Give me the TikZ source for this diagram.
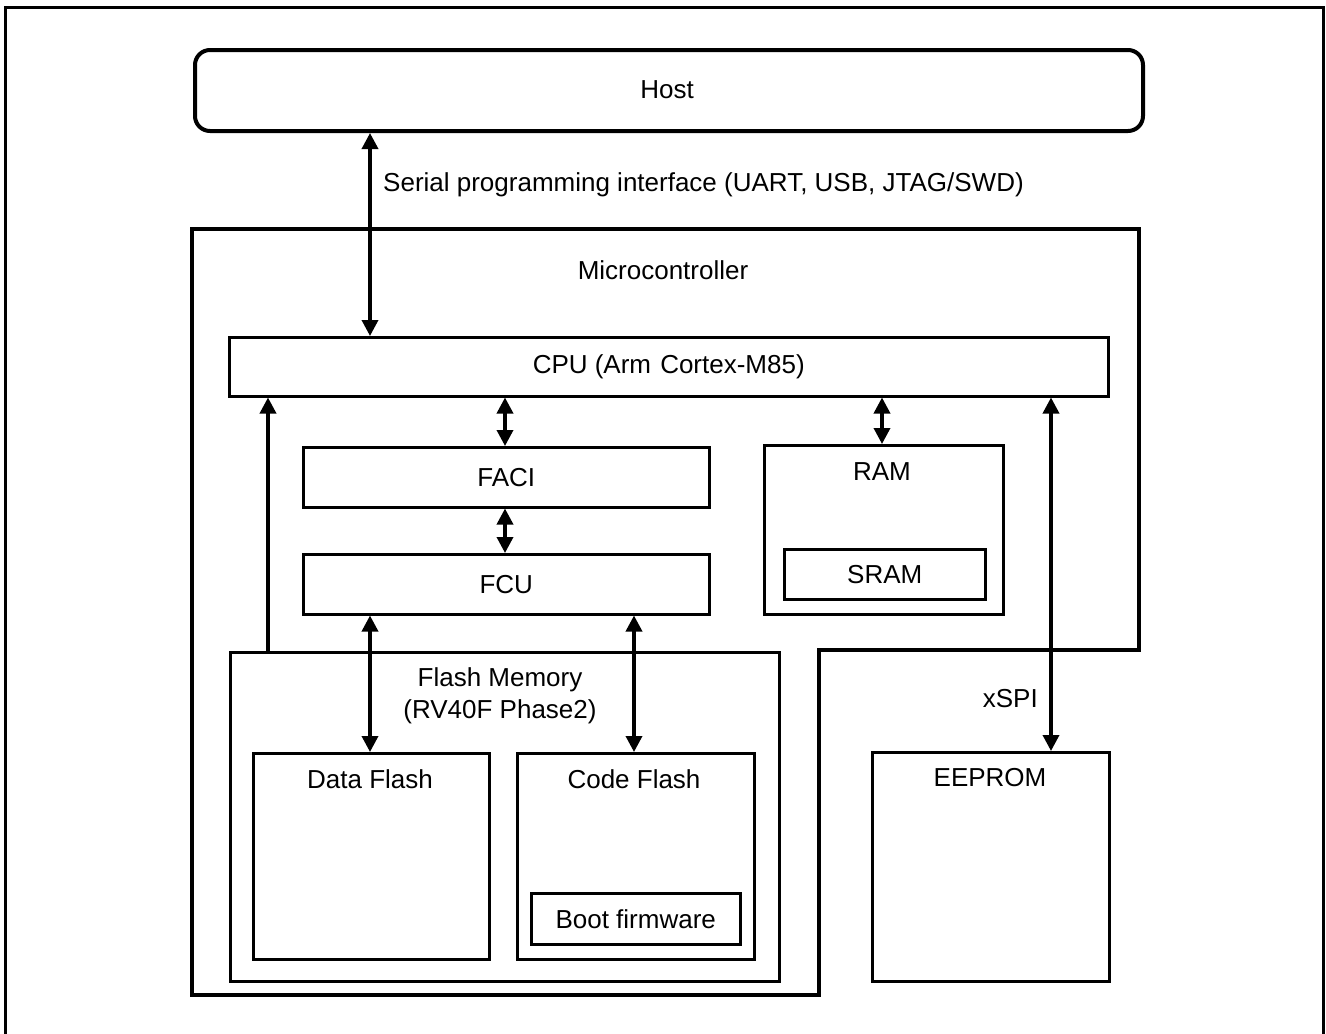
\documentclass[tikz,border=0pt]{standalone}
\usepackage{fontspec}
\setmainfont{Liberation Sans}
\usetikzlibrary{arrows.meta}
\begin{document}
\begin{tikzpicture}[x=1pt,y=-1pt,
  every node/.style={font=\fontsize{26}{31}\selectfont, inner sep=0pt},
  blk/.style={draw, line width=2.5pt, rectangle, anchor=north west},
  conn/.style={line width=3.5pt, {Triangle[length=16pt,width=16pt]}-{Triangle[length=16pt,width=16pt]}},
  conn1/.style={line width=3.5pt, -{Triangle[length=16pt,width=16pt]}}
]
\useasboundingbox (0,0) rectangle (1326,1034);
% outer frame
\draw[line width=3pt] (5,1045) -- (5,7) -- (1323,7) -- (1323,1045);
% host
\node[draw, line width=4pt, rounded corners=15pt, minimum width=948pt, minimum height=81pt, anchor=north west] (host) at (193,48) {};
\node (hostt) at (667,90) {Host};
% microcontroller boundary
\draw[line width=4pt] (192,229) -- (1139,229) -- (1139,650) -- (819,650) -- (819,995) -- (192,995) -- cycle;
\node (mct) at (663,270) {Microcontroller};
% blocks
\node[blk, minimum width=879pt, minimum height=59pt] (cpu) at (228,336) {};
\node at (cpu.center) {CPU (Arm\hspace{0.35em}Cortex-M85)};
\node[blk, minimum width=406pt, minimum height=60pt] (faci) at (302,446) {};
\node at (faci.center) {FACI};
\node[blk, minimum width=406pt, minimum height=60pt] (fcu) at (302,553) {};
\node at (fcu.center) {FCU};
\node[blk, minimum width=239pt, minimum height=169pt] (ram) at (763,444) {};
\node at (882,472) {RAM};
\node[blk, minimum width=201pt, minimum height=50pt] (sram) at (783,548) {};
\node at (sram.center) {SRAM};
\node[blk, minimum width=549pt, minimum height=329pt] (flash) at (229,651) {};
\node at (500,680) {Flash Memory};
\node at (500,712) {(RV40F Phase2)};
\node[blk, minimum width=236pt, minimum height=206pt] (df) at (252,752) {};
\node at (370,779) {Data Flash};
\node[blk, minimum width=237pt, minimum height=206pt] (cf) at (516,752) {};
\node at (634,779) {Code Flash};
\node[blk, minimum width=209pt, minimum height=51pt] (boot) at (530,892) {};
\node at (boot.center) {Boot firmware};
\node[blk, line width=3pt, minimum width=237pt, minimum height=229pt] (ee) at (871,751) {};
\node at (990,778) {EEPROM};
% connectors
\draw[conn] (host.south -| 370,0) -- (cpu.north -| 370,0);
\node[anchor=west] (serial) at (383,185) {Serial programming interface (UART, USB, JTAG/SWD)};
\draw[conn] (cpu.south -| 505,0) -- (faci.north -| 505,0);
\draw[conn] (faci.south -| 505,0) -- (fcu.north -| 505,0);
\draw[conn] (cpu.south -| 882,0) -- (ram.north -| 882,0);
\draw[conn] (fcu.south -| 370,0) -- (df.north -| 370,0);
\draw[conn] (fcu.south -| 634,0) -- (cf.north -| 634,0);
\draw[conn1] (flash.north -| 268,0) -- (cpu.south -| 268,0);
\draw[conn] (cpu.south -| 1051,0) -- (ee.north -| 1051,0);
\node[anchor=east] (xspi) at (1038,699) {xSPI};
\end{tikzpicture}
\end{document}
